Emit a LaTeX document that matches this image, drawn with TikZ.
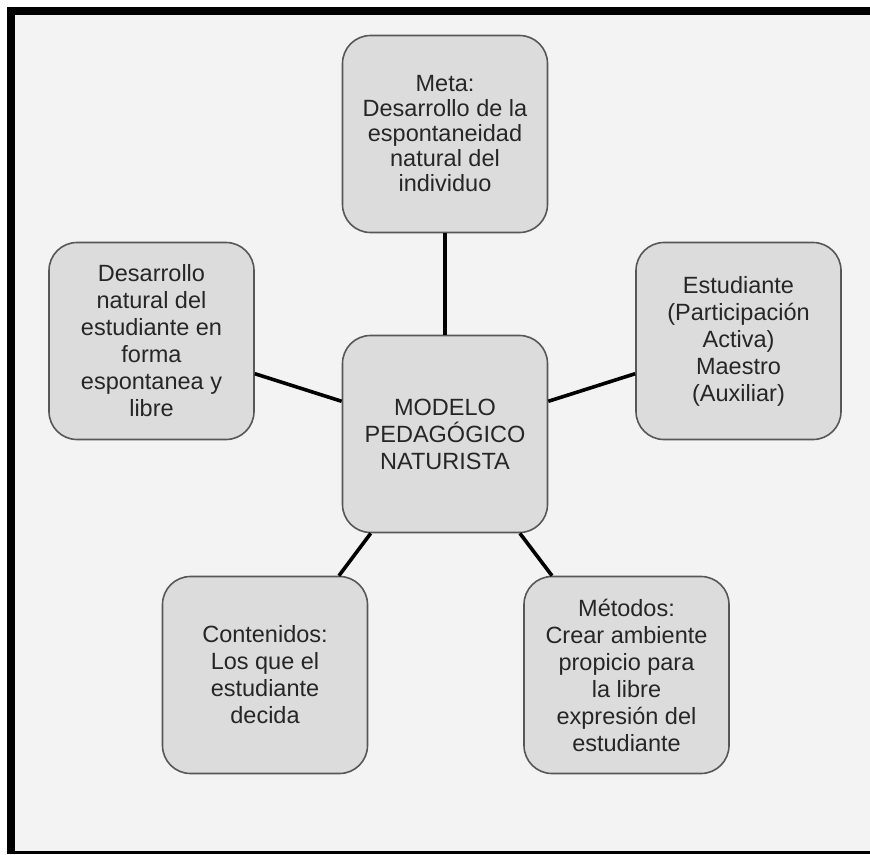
\documentclass[tikz,border=0pt]{standalone}
\usepackage{fontspec}
\setmainfont{Liberation Sans}
\usepackage{xcolor}
\usepackage{tikz}
\definecolor{fondo}{HTML}{F3F3F3}
\definecolor{cajagris}{HTML}{DCDCDC}
\definecolor{borde}{HTML}{575757}
\definecolor{texto}{HTML}{262626}

\begin{document}
\begin{tikzpicture}[x=1pt, y=-1pt,
    caja/.style={rectangle, rounded corners=28pt, fill=cajagris, draw=borde, line width=1.6pt,
        minimum width=205pt, minimum height=197pt, align=center, text=texto,
        font=\fontsize{23.5}{27}\selectfont},
    enlace/.style={line width=3.6pt, black}]
    \useasboundingbox (0, 0) rectangle (870, 854);
    \fill [white] (0, 0) rectangle (870, 854);
    \fill [black] (7, 7) rectangle (870, 854);
    \fill [fondo] (15, 15) rectangle (870, 851);
    \node [caja] (centro) at (445, 434) {MODELO\\PEDAGÓGICO\\NATURISTA};
    \node [caja, font=\fontsize{23.5}{25}\selectfont] (meta) at (445, 134) {Meta:\\Desarrollo de la\\espontaneidad\\natural del\\individuo};
    \node [caja] (izq) at (151.5, 341) {Desarrollo\\natural del\\estudiante en\\forma\\espontanea y\\libre};
    \node [caja] (der) at (738.5, 341) {Estudiante\\(Participación\\Activa)\\Maestro\\(Auxiliar)};
    \node [caja] (cont) at (265, 675) {Contenidos:\\Los que el\\estudiante\\decida};
    \node [caja] (met) at (626.5, 675) {Métodos:\\Crear ambiente\\propicio para\\la libre\\expresión del\\estudiante};
    \draw [enlace] (centro) -- (meta);
    \draw [enlace] (centro) -- (izq);
    \draw [enlace] (centro) -- (der);
    \draw [enlace] (centro) -- (cont);
    \draw [enlace] (centro) -- (met);
\end{tikzpicture}
\end{document}
